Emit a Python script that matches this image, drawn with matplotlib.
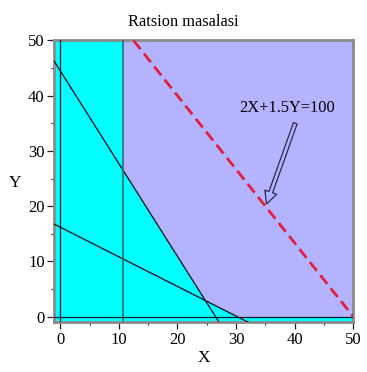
import numpy as np
import matplotlib
matplotlib.use("Agg")
import matplotlib.pyplot as plt
from matplotlib.patches import FancyArrowPatch, ArrowStyle

plt.rcParams['font.family'] = ['Liberation Serif', 'DejaVu Serif']

# Constraint lines given by their axis intercepts (x-intercept, y-intercept)
line1_intercepts = (26.5, 44.5)
line2_intercepts = (30.2, 16.2)
x_min_bound = 10.7          # vertical constraint X >= 10.7
objective = (2.0, 1.5, 100.0)   # 2X + 1.5Y = 100
objective_label = "2X+1.5Y=100"
arrow_tail = (40.1, 35.0)
arrow_head = (35.2, 20.4)
label_pos = (38.7, 37.8)
x_range = (-1, 50)
y_range = (-1, 50)
xticks = [0, 10, 20, 30, 40, 50]
yticks = [0, 10, 20, 30, 40, 50]

CYAN = "#00FFFF"
LAVENDER = "#B3B3FF"

def line_y(x, icpt):
    xi, yi = icpt
    return yi - yi / xi * x

fig = plt.figure(figsize=(3.67, 3.72), dpi=100)
ax = fig.add_axes([0.1482, 0.1339, 0.8145, 0.7573])
ax.set_xlim(*x_range)
ax.set_ylim(*y_range)

# infeasible background
ax.set_facecolor(CYAN)

# feasible region: right of vertical bound, above both lines and y >= 0
xs = np.linspace(x_min_bound, x_range[1], 600)
lower = np.maximum.reduce([line_y(xs, line1_intercepts),
                           line_y(xs, line2_intercepts),
                           np.zeros_like(xs)])
ax.fill_between(xs, lower, y_range[1], color=LAVENDER, lw=0, zorder=1)

# constraint lines
xl = np.array(x_range, dtype=float)
ax.plot(xl, line_y(xl, line1_intercepts), color="#1a1a2a", lw=1.0, zorder=3)
ax.plot(xl, line_y(xl, line2_intercepts), color="#1a1a2a", lw=1.0, zorder=3)
ax.axvline(x_min_bound, color="#2f6f6f", lw=1.2, zorder=3)
ax.axvline(0, color="#1a1a2a", lw=0.9, zorder=3)
ax.axhline(0, color="#1a1a2a", lw=0.9, zorder=3)

# objective line (dashed red)
a, b, c = objective
xo = np.array([(c - b * y_range[1]) / a, c / a])
ax.plot(xo, (c - a * xo) / b, color="#E41E3C", lw=2.0,
        linestyle=(0, (4, 2)), zorder=4)

# hollow arrow pointing at the objective line
style = ArrowStyle("Simple", head_length=9, head_width=9, tail_width=2.8)
arr = FancyArrowPatch(arrow_tail, arrow_head, arrowstyle=style,
                      mutation_scale=1, facecolor="none",
                      edgecolor="#2a2a48", lw=0.9, shrinkA=0, shrinkB=0,
                      zorder=5)
ax.add_patch(arr)
ax.text(*label_pos, objective_label, ha="center", va="center",
        fontsize=11.8, color="black", zorder=6)

# ticks
ax.set_xticks(xticks)
ax.set_yticks(yticks)
ax.set_xticks(np.array(xticks[:-1]) + 5, minor=True)
ax.set_yticks(np.array(yticks[:-1]) + 5, minor=True)
ax.tick_params(which="major", direction="out", length=5, width=0.9,
               labelsize=12, pad=2, colors="#222222", labelcolor="black")
ax.tick_params(which="minor", direction="out", length=2.5, width=0.8,
               colors="#222222")

for sp in ax.spines.values():
    sp.set_color("#8a8a8a")
    sp.set_linewidth(2.0)

fig.text(0.5, 0.942, "Ratsion masalasi", ha="center", va="center", fontsize=11.8)
fig.text(0.5555, 0.0376, "X", ha="center", va="center", fontsize=12.5)
fig.text(0.041, 0.507, "Y", ha="center", va="center", fontsize=12.5)

fig.savefig("out.png", dpi=100, facecolor="white")
